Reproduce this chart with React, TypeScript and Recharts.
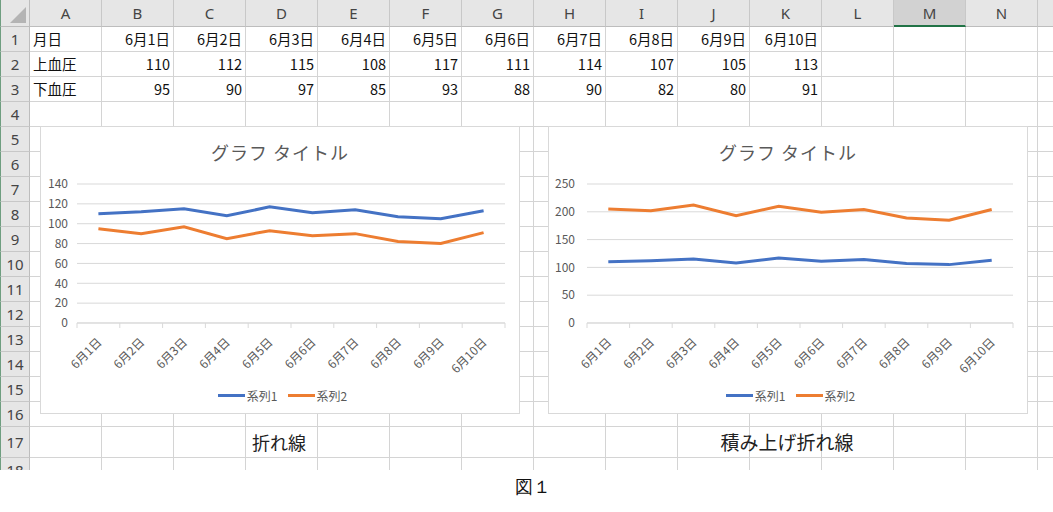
import React from 'react';
import { ComposedChart, Line, Area, XAxis, YAxis, CartesianGrid, Legend } from 'recharts';

// sheet data (rows 1-3)
const dates = ['6月1日', '6月2日', '6月3日', '6月4日', '6月5日', '6月6日', '6月7日', '6月8日', '6月9日', '6月10日'];
const upper = [110, 112, 115, 108, 117, 111, 114, 107, 105, 113];
const lower = [95, 90, 97, 85, 93, 88, 90, 82, 80, 91];
const rowLabels = ['月日', '上血圧', '下血圧'];
const seriesNames = ['系列1', '系列2'];

const columnLetters = ['A', 'B', 'C', 'D', 'E', 'F', 'G', 'H', 'I', 'J', 'K', 'L', 'M', 'N', ''];
const lineTicks = [0, 20, 40, 60, 80, 100, 120, 140];
const stackTicks = [0, 50, 100, 150, 200, 250];

const BLUE = '#4472C4';
const ORANGE = '#ED7D31';
const GRID = '#d9d9d9';
const TEXT = '#595959';
const FONT = '"Noto Sans CJK JP", "Noto Sans", sans-serif';

const data = dates.map((d, i) => ({ date: d, s1: upper[i], s2: lower[i] }));

const COL_W = 72;
const ROW_HEAD_W = 30;
const HEAD_H = 27;
const rowHeights = [25, 25, 25, 25, 25, 25, 25, 25, 25, 25, 25, 25, 25, 25, 25, 25, 31, 25];
const rowTops = rowHeights.map((_, i) => HEAD_H + rowHeights.slice(0, i).reduce((a, b) => a + b, 0));

const DateTick = (props: any) => {
  const { x, y, payload } = props;
  const half = payload?.offset ?? 0;
  const last = payload.value === dates[dates.length - 1];
  return (
    <g>
      <line x1={x - half} x2={x - half} y1={y} y2={y + 5} stroke={GRID} />
      {last && <line x1={x + half} x2={x + half} y1={y} y2={y + 5} stroke={GRID} />}
      <text
        x={x + 4}
        y={y + 20}
        textAnchor="end"
        transform={`rotate(-45 ${x + 4} ${y + 20})`}
        fontSize={12}
        fill={TEXT}
        fontFamily={FONT}
      >
        {payload.value}
      </text>
    </g>
  );
};

const ExcelLegend = (props: any) => {
  const items = props.payload ?? [];
  return (
    <div
      style={{
        display: 'flex',
        justifyContent: 'center',
        alignItems: 'center',
        height: 16,
        fontSize: 12,
        color: TEXT,
        fontFamily: FONT,
        paddingLeft: 5,
      }}
    >
      {items.map((it: any) => (
        <span key={it.value} style={{ display: 'inline-flex', alignItems: 'center', margin: '0 5px' }}>
          <span style={{ display: 'inline-block', width: 27, height: 3, background: it.color, marginRight: 2 }} />
          {it.value}
        </span>
      ))}
    </div>
  );
};

const ChartBox = ({ left, stacked }: { left: number; stacked: boolean }) => {
  const ticks = stacked ? stackTicks : lineTicks;
  return (
    <div
      style={{
        position: 'absolute',
        left,
        top: 126,
        width: 480,
        height: 288,
        border: `1px solid ${GRID}`,
        boxSizing: 'border-box',
        background: '#fff',
      }}
    >
      <div
        style={{
          position: 'absolute',
          top: 13,
          left: 0,
          width: '100%',
          textAlign: 'center',
          fontSize: 18,
          color: TEXT,
          fontFamily: FONT,
          lineHeight: '24px',
          letterSpacing: 1,
        }}
      >
        グラフ タイトル
      </div>
      <ComposedChart
        width={478}
        height={286}
        data={data}
        margin={{ top: 57, right: 14, left: 0, bottom: 10 }}
        style={{ position: 'absolute', left: 0, top: 0 }}
      >
        <CartesianGrid vertical={false} stroke={GRID} />
        <XAxis
          dataKey="date"
          scale="band"
          height={64}
          interval={0}
          stroke={GRID}
          tickLine={false}
          tickSize={0}
          tickMargin={0}
          tick={<DateTick />}
        />
        <YAxis
          width={stacked ? 38 : 36}
          domain={[0, ticks[ticks.length - 1]]}
          ticks={ticks}
          interval={0}
          axisLine={false}
          tickLine={false}
          tickSize={0}
          tickMargin={stacked ? 12 : 9}
          tick={{ fontSize: 12, fill: TEXT, fontFamily: FONT }}
        />
        <Legend
          verticalAlign="bottom"
          content={<ExcelLegend />}
          wrapperStyle={{ left: 0, width: 478 }}
        />
        {stacked ? (
          <>
            <Area
              type="linear"
              dataKey="s1"
              name={seriesNames[0]}
              stackId="a"
              stroke={BLUE}
              strokeWidth={3}
              fill="none"
              fillOpacity={0}
              dot={false}
              activeDot={false}
              legendType="plainline"
              isAnimationActive={false}
            />
            <Area
              type="linear"
              dataKey="s2"
              name={seriesNames[1]}
              stackId="a"
              stroke={ORANGE}
              strokeWidth={3}
              fill="none"
              fillOpacity={0}
              dot={false}
              activeDot={false}
              legendType="plainline"
              isAnimationActive={false}
            />
          </>
        ) : (
          <>
            <Line
              type="linear"
              dataKey="s1"
              name={seriesNames[0]}
              stroke={BLUE}
              strokeWidth={3}
              dot={false}
              activeDot={false}
              legendType="plainline"
              isAnimationActive={false}
            />
            <Line
              type="linear"
              dataKey="s2"
              name={seriesNames[1]}
              stroke={ORANGE}
              strokeWidth={3}
              dot={false}
              activeDot={false}
              legendType="plainline"
              isAnimationActive={false}
            />
          </>
        )}
      </ComposedChart>
    </div>
  );
};

const cellText = (r: number, c: number): { text: string; align: 'left' | 'right' } | null => {
  if (r > 2 || c > 10) return null;
  if (c === 0) return { text: rowLabels[r], align: 'left' };
  const i = c - 1;
  if (r === 0) return { text: dates[i], align: 'right' };
  if (r === 1) return { text: String(upper[i]), align: 'right' };
  return { text: String(lower[i]), align: 'right' };
};

const Sheet = () => {
  const cells: React.ReactNode[] = [];
  rowHeights.forEach((h, r) => {
    columnLetters.forEach((_, c) => {
      const content = cellText(r, c);
      cells.push(
        <div
          key={`${r}-${c}`}
          style={{
            position: 'absolute',
            left: ROW_HEAD_W + c * COL_W,
            top: rowTops[r],
            width: COL_W,
            height: h,
            borderRight: '1px solid #d4d4d4',
            borderBottom: '1px solid #d4d4d4',
            boxSizing: 'border-box',
            fontSize: 14.5,
            lineHeight: `${h - 1}px`,
            color: '#111',
            fontFamily: FONT,
            textAlign: content?.align ?? 'left',
            padding: '0 3px',
            whiteSpace: 'nowrap',
          }}
        >
          {content?.text}
        </div>
      );
    });
  });
  return (
    <div style={{ position: 'absolute', left: 0, top: 0, width: 1053, height: 470, overflow: 'hidden' }}>
      {cells}
      {/* column headers */}
      {columnLetters.map((l, c) => (
        <div
          key={`ch${c}`}
          style={{
            position: 'absolute',
            left: ROW_HEAD_W + c * COL_W,
            top: 0,
            width: COL_W,
            height: HEAD_H,
            background: l === 'M' ? '#d2d2d2' : '#e6e6e6',
            borderRight: '1px solid #c8c8c8',
            borderBottom: l === 'M' ? '2px solid #217346' : '1px solid #bdbdbd',
            boxSizing: 'border-box',
            textAlign: 'center',
            lineHeight: '26px',
            fontSize: 15,
            color: '#444',
            fontFamily: '"Noto Sans", sans-serif',
          }}
        >
          {l}
        </div>
      ))}
      {/* row headers */}
      {rowHeights.map((h, r) => (
        <div
          key={`rh${r}`}
          style={{
            position: 'absolute',
            left: 0,
            top: rowTops[r],
            width: ROW_HEAD_W,
            height: h,
            background: '#e6e6e6',
            borderRight: '1px solid #bdbdbd',
            borderBottom: '1px solid #c8c8c8',
            borderLeft: '1px solid #6f9e80',
            boxSizing: 'border-box',
            textAlign: 'center',
            lineHeight: `${h}px`,
            fontSize: 15,
            color: '#444',
            fontFamily: '"Noto Sans", sans-serif',
          }}
        >
          {r + 1}
        </div>
      ))}
      {/* corner */}
      <div
        style={{
          position: 'absolute',
          left: 0,
          top: 0,
          width: ROW_HEAD_W,
          height: HEAD_H,
          background: '#e6e6e6',
          borderRight: '1px solid #bdbdbd',
          borderBottom: '1px solid #bdbdbd',
          borderLeft: '1px solid #6f9e80',
          boxSizing: 'border-box',
        }}
      >
        <div
          style={{
            position: 'absolute',
            right: 3,
            bottom: 3,
            width: 0,
            height: 0,
            borderLeft: '16px solid transparent',
            borderBottom: '16px solid #b4b4b4',
          }}
        />
      </div>
    </div>
  );
};

const caption = (text: string, cx: number, size: number) => (
  <div
    style={{
      position: 'absolute',
      left: cx - 100,
      top: 429,
      width: 200,
      textAlign: 'center',
      fontSize: size,
      lineHeight: '26px',
      color: '#222',
      fontFamily: FONT,
    }}
  >
    {text}
  </div>
);

const App = () => {
  return (
    <div
      style={{
        position: 'absolute',
        left: 0,
        top: 0,
        width: 1053,
        height: 512,
        background: '#fff',
        overflow: 'hidden',
      }}
    >
      <Sheet />
      <ChartBox left={40} stacked={false} />
      <ChartBox left={548} stacked={true} />
      {caption('折れ線', 279, 18)}
      {caption('積み上げ折れ線', 787, 19)}
      <div
        style={{
          position: 'absolute',
          left: 433,
          top: 474,
          width: 200,
          textAlign: 'center',
          fontSize: 18,
          lineHeight: '26px',
          color: '#111',
          fontFamily: 'serif',
        }}
      >
        図１
      </div>
    </div>
  );
};

export default App;
